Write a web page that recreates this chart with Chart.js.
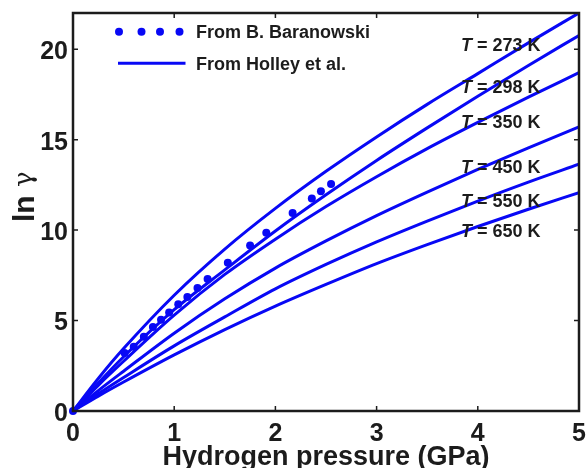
<!DOCTYPE html>
<html>
<head>
<meta charset="utf-8">
<script src="https://cdn.jsdelivr.net/npm/chart.js@4/dist/chart.umd.min.js"></script>
<style>
  html, body { margin: 0; padding: 0; background: #fff; }
  #wrap { width: 586px; height: 468px; }
</style>
</head>
<body>
<div id="wrap"><canvas id="chart" width="586" height="468"></canvas></div>
<script>
// Hydrogen pressure (GPa) at which the model curves are tabulated
const pressureGPa = [0, 0.25, 0.5, 1, 1.5, 2, 2.5, 3, 3.5, 4, 4.5, 5];

// ln(gamma) from the Holley et al. equation of state, one series per temperature
const lnGammaT273 = [0, 1.8, 3.45, 6.4, 8.95, 11.2, 13.25, 15.15, 16.95, 18.65, 20.35, 22.0];
const lnGammaT298 = [0, 1.55, 3.0, 5.6, 7.8, 9.95, 11.95, 13.85, 15.65, 17.4, 19.1, 20.76];
const lnGammaT350 = [0, 1.42, 2.75, 5.3, 7.55, 9.5, 11.3, 12.95, 14.5, 15.95, 17.35, 18.7];
const lnGammaT450 = [0, 1.13, 2.2, 4.3, 6.2, 7.9, 9.4, 10.8, 12.1, 13.35, 14.55, 15.7];
const lnGammaT550 = [0, 0.95, 1.85, 3.6, 5.2, 6.75, 8.1, 9.35, 10.5, 11.6, 12.65, 13.64];
const lnGammaT650 = [0, 0.82, 1.6, 3.1, 4.5, 5.8, 7.0, 8.15, 9.2, 10.2, 11.15, 12.07];
const temperaturesK = [273, 298, 350, 450, 550, 650];

// Measured points (B. Baranowski)
const baranowskiP = [0, 0.51, 0.6, 0.7, 0.79, 0.87, 0.95, 1.04, 1.13, 1.23, 1.33, 1.53, 1.75, 1.91, 2.17, 2.36, 2.45, 2.55];
const baranowskiLnGamma = [0, 3.2, 3.55, 4.1, 4.65, 5.05, 5.45, 5.9, 6.3, 6.8, 7.3, 8.2, 9.15, 9.85, 10.95, 11.75, 12.15, 12.55];

// Axis ticks
const xTickValues = [0, 1, 2, 3, 4, 5];
const yTickValues = [0, 5, 10, 15, 20];

const modelSeries = [lnGammaT273, lnGammaT298, lnGammaT350, lnGammaT450, lnGammaT550, lnGammaT650];

const FONT = '"Liberation Sans", Arial, Helvetica, sans-serif';
const BLUE = 'rgb(8, 8, 245)';
const INK = '#1c1c1c';

// Where the temperature tags sit (right edge, in axis units)
const tagRightP = 4.62;
const tagLnGamma = [20.2, 17.85, 15.9, 13.45, 11.55, 9.9];

const datasets = modelSeries.map((vals, i) => ({
  type: 'line',
  label: 'T = ' + temperaturesK[i] + ' K',
  data: pressureGPa.map((p, j) => ({ x: p, y: vals[j] })),
  borderColor: BLUE,
  borderWidth: 3,
  pointRadius: 0,
  fill: false,
  cubicInterpolationMode: 'monotone'
}));

datasets.push({
  type: 'scatter',
  label: 'From B. Baranowski',
  data: baranowskiP.map((p, j) => ({ x: p, y: baranowskiLnGamma[j] })),
  backgroundColor: BLUE,
  borderColor: BLUE,
  borderWidth: 0,
  pointRadius: 4,
  clip: false
});

// Box frame, inward ticks, y title, legend and temperature tags
const decorations = {
  id: 'decorations',
  afterDraw(chart) {
    const { ctx, chartArea: a, scales: { x, y } } = chart;
    ctx.save();

    ctx.strokeStyle = INK;
    ctx.lineWidth = 2.5;
    ctx.strokeRect(a.left, a.top, a.right - a.left, a.bottom - a.top);

    ctx.lineWidth = 1.5;
    ctx.beginPath();
    x.ticks.forEach(t => {
      const px = x.getPixelForValue(t.value);
      ctx.moveTo(px, a.bottom); ctx.lineTo(px, a.bottom - 5);
      ctx.moveTo(px, a.top); ctx.lineTo(px, a.top + 5);
    });
    y.ticks.forEach(t => {
      const py = y.getPixelForValue(t.value);
      ctx.moveTo(a.left, py); ctx.lineTo(a.left + 5, py);
      ctx.moveTo(a.right, py); ctx.lineTo(a.right - 5, py);
    });
    ctx.stroke();

    // y axis title: bold "ln" followed by a plain gamma, reading upward
    ctx.save();
    ctx.translate(34, 222);
    ctx.rotate(-Math.PI / 2);
    ctx.fillStyle = INK;
    ctx.textAlign = 'left';
    ctx.textBaseline = 'alphabetic';
    ctx.font = 'bold 30px ' + FONT;
    ctx.fillText('ln', 0, 0);
    const wLn = ctx.measureText('ln ').width;
    ctx.font = '26px "DejaVu Serif", serif';
    ctx.fillText('\u03b3', wLn, -2);
    ctx.restore();

    // legend
    ctx.fillStyle = BLUE;
    [46, 68.5, 87, 106.5].forEach(dx => {
      ctx.beginPath();
      ctx.arc(a.left + dx, a.top + 18.7, 4, 0, Math.PI * 2);
      ctx.fill();
    });
    ctx.strokeStyle = BLUE;
    ctx.lineWidth = 3;
    ctx.beginPath();
    ctx.moveTo(a.left + 45, a.top + 50.3);
    ctx.lineTo(a.left + 112.5, a.top + 50.3);
    ctx.stroke();

    ctx.fillStyle = INK;
    ctx.font = 'bold 18px ' + FONT;
    ctx.textBaseline = 'middle';
    ctx.textAlign = 'left';
    ctx.fillText('From B. Baranowski', a.left + 123, a.top + 20);
    ctx.fillText('From Holley et al.', a.left + 123, a.top + 52);

    // temperature tags
    const xr = x.getPixelForValue(tagRightP);
    temperaturesK.forEach((t, i) => {
      const py = y.getPixelForValue(tagLnGamma[i]);
      ctx.font = 'bold 18px ' + FONT;
      const rest = ' = ' + t + ' K';
      const wRest = ctx.measureText(rest).width;
      ctx.font = 'italic bold 18px ' + FONT;
      const wT = ctx.measureText('T').width;
      ctx.fillText('T', xr - wRest - wT, py);
      ctx.font = 'bold 18px ' + FONT;
      ctx.fillText(rest, xr - wRest, py);
    });

    ctx.restore();
  }
};

new Chart(document.getElementById('chart'), {
  data: { datasets },
  options: {
    responsive: false,
    animation: false,
    devicePixelRatio: 1,
    layout: { padding: { top: 13, right: 7, left: 0, bottom: 0 } },
    plugins: { legend: { display: false }, tooltip: { enabled: false } },
    scales: {
      x: {
        type: 'linear',
        min: 0, max: 5,
        afterBuildTicks: s => { s.ticks = xTickValues.map(v => ({ value: v })); },
        afterFit: s => { s.height = 57; s.paddingLeft = 0; s.paddingRight = 0; },
        grid: { display: false, drawTicks: false },
        border: { display: false },
        ticks: { color: INK, padding: 8, font: { family: FONT, size: 25, weight: 'bold' } },
        title: {
          display: true, text: 'Hydrogen pressure (GPa)', color: INK,
          padding: 0, font: { family: FONT, size: 27, weight: 'bold', lineHeight: 0.74 }
        }
      },
      y: {
        type: 'linear',
        min: 0, max: 22,
        afterBuildTicks: s => { s.ticks = yTickValues.map(v => ({ value: v })); },
        afterFit: s => { s.width = 73; s.paddingTop = 0; s.paddingBottom = 0; },
        grid: { display: false, drawTicks: false },
        border: { display: false },
        ticks: { color: INK, padding: 5, labelOffset: 3, font: { family: FONT, size: 25, weight: 'bold' } },
        title: { display: false }
      }
    }
  },
  plugins: [decorations]
});
</script>
</body>
</html>
